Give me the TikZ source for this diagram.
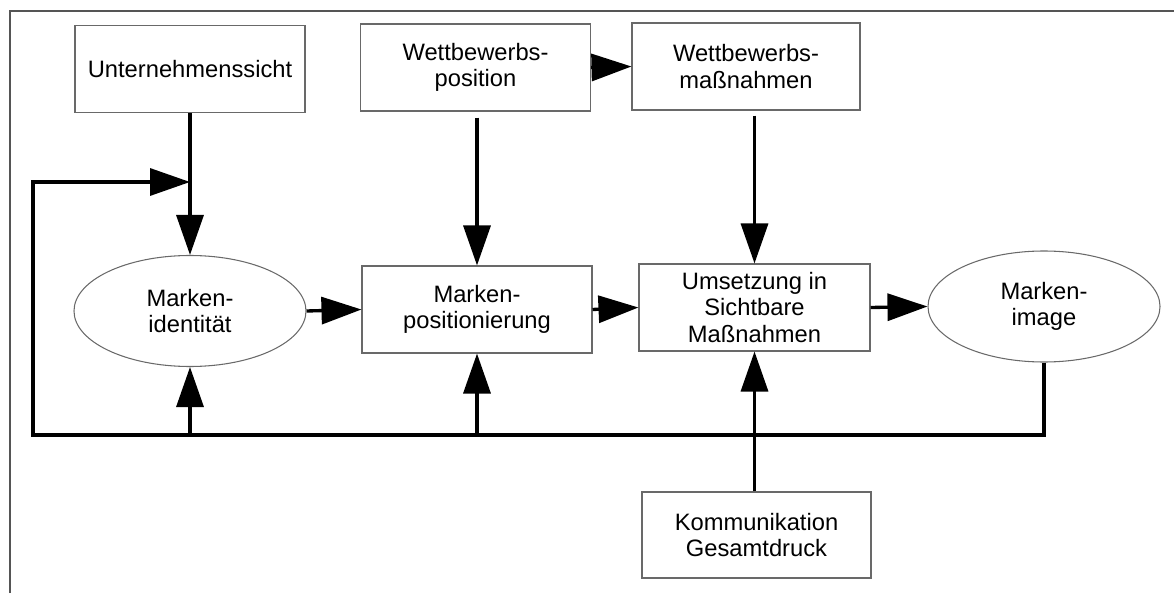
\documentclass[tikz,border=0pt]{standalone}
\usepackage{fontspec}
\setmainfont{Liberation Sans}
\usetikzlibrary{positioning,arrows.meta,shapes.geometric}
\definecolor{FrameGray}{RGB}{85,85,85}
\definecolor{EdgeGray}{RGB}{105,105,105}

\begin{document}
\begin{tikzpicture}[x=1cm,y=1cm, every node/.style={font=\fontsize{13.5}{15}\selectfont, align=center},
  box/.style={draw=EdgeGray, line width=0.6pt, minimum width=4.6cm, minimum height=1.74cm, inner sep=0pt},
  oval/.style={ellipse, draw=EdgeGray, line width=0.6pt, minimum width=4.64cm, minimum height=2.22cm, inner sep=0pt},
  flow/.style={line width=1.9pt, -{Triangle[length=0.8cm,width=0.54cm]}}]
  \useasboundingbox (0,0) rectangle (23.48,11.86);
  \draw[FrameGray, line width=1.3pt] (0.2,0) -- (0.2,11.64) -- (23.48,11.64);

  \node[box] (us) at (3.80,10.48) {Unternehmenssicht};
  \node[box] (wp) at (9.51,10.51) {Wettbewerbs-\\position};
  \node[box, minimum width=4.56cm] (wm) at (14.92,10.53) {Wettbewerbs-\\maßnahmen};

  \node[oval] (mi) at (3.80,5.64) {Marken-\\identität};
  \node[box] (mp) at (9.54,5.67) {Marken-\\positionierung};
  \node[box, minimum width=4.62cm] (um) at (15.09,5.71) {Umsetzung in\\Sichtbare\\Maßnahmen};
  \node[oval] (mg) at (20.88,5.73) {Marken-\\image};
  \node[box, minimum width=4.58cm, minimum height=1.72cm] (ko) at (15.13,1.16) {Kommunikation\\Gesamtdruck};

  \coordinate (fbtop) at (3.80,8.22);
  \coordinate (fbbase) at (0.66,3.16);

  \draw[flow] (wp.east) -- (wm.west);
  \draw[flow] (us.south) -- (mi.north);
  \draw[flow, shorten <=0.12cm] (mp.north |- wp.south) -- (mp.north);
  \draw[flow, shorten <=0.1cm] (um.north |- wm.south) -- (um.north);

  \draw[flow] (mi.east) -- (mp.west);
  \draw[flow] (mp.east) -- (um.west);
  \draw[flow] (um.east) -- (mg.west);

  \draw[flow] (mg.south) |- (fbbase) |- (fbtop);
  \draw[flow] (mi.south |- fbbase) -- (mi.south);
  \draw[flow] (mp.south |- fbbase) -- (mp.south);
  \draw[flow] (ko.north -| um.south) -- (um.south);
\end{tikzpicture}
\end{document}
